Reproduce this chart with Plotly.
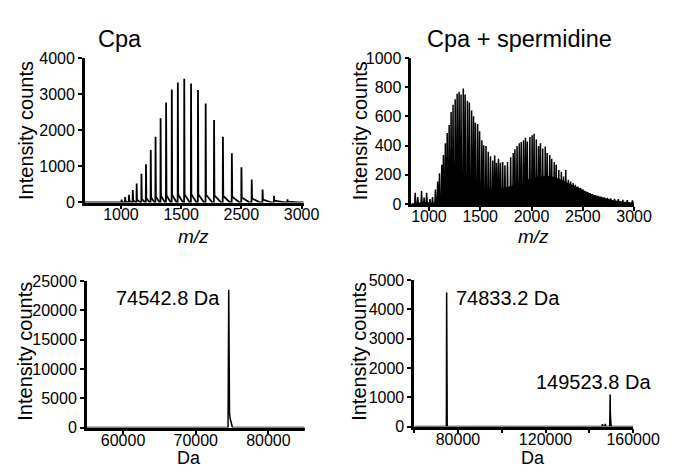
import plotly.graph_objects as go

W, H = 679, 470

# ---------------- data ----------------
# Top-left: Cpa, m/z spectrum (charge-state peaks)
tl_peak_mz = [1007, 1046, 1089, 1131, 1174, 1227, 1277, 1330, 1383, 1439, 1500, 1563, 1630,
              1701, 1776, 1853, 1938, 2031, 2129, 2228, 2334, 2448, 2568, 2695, 2844]
tl_peak_int = [80, 150, 212, 344, 530, 795, 1060, 1457, 1828, 2340, 2773, 3134, 3330,
               3435, 3303, 3126, 2746, 2287, 1828, 1370, 980, 636, 363, 185, 87]
tl_tail_int = [20, 30, 40, 60, 80, 100, 120, 140, 160, 180, 200, 210, 220,
               220, 220, 220, 215, 200, 180, 160, 140, 110, 80, 50, 25]
tl_xtick_vals = [1000, 1667, 2333, 3000]
tl_xtick_text = ["1000", "1500", "2500", "3000"]
tl_ytick_vals = [0, 1000, 2000, 3000, 4000]

# Top-right: Cpa + spermidine, m/z spectrum
tr_peak_mz = [866, 891, 928, 953, 978, 1010, 1035, 1063, 1085, 1103, 1125, 1141, 1160, 1178, 1197,
              1216, 1235, 1256, 1275, 1294, 1313, 1335, 1353, 1375, 1394, 1416, 1435, 1453, 1475,
              1494, 1516, 1534, 1556, 1578, 1600, 1622, 1641, 1659, 1678, 1697, 1719, 1741, 1766,
              1797, 1822, 1838, 1859, 1881, 1900, 1922, 1941, 1959, 1984, 2006, 2025, 2047, 2069,
              2087, 2109, 2134, 2153, 2178, 2197, 2222, 2241, 2266, 2291, 2312, 2334, 2359, 2381,
              2406, 2428, 2453, 2478, 2500, 2522, 2547, 2572, 2597, 2622, 2647, 2678, 2709, 2740,
              2772, 2809, 2847, 2890, 2934, 2984]
tr_peak_int = [77, 48, 88, 44, 77, 33, 48, 99, 154, 210, 269, 335, 415, 486, 541,
               629, 680, 717, 755, 768, 750, 790, 750, 706, 695, 640, 600, 556, 547,
               497, 437, 402, 397, 357, 327, 298, 331, 282, 309, 282, 287, 265, 287,
               320, 349, 375, 397, 415, 424, 437, 453, 428, 459, 470, 481, 441, 397,
               415, 380, 393, 349, 335, 309, 287, 269, 232, 221, 188, 232, 166, 154,
               143, 132, 119, 110, 99, 88, 82, 73, 66, 60, 55, 51, 46, 42,
               38, 35, 33, 29, 27, 24]
tr_floor_mz = [828, 950, 1050, 1100, 1200, 1300, 1400, 1500, 1600, 1700, 1800, 1900,
               2000, 2100, 2200, 2300, 2400, 2500, 2600, 2700, 2800, 2900, 3000]
tr_floor_int = [0, 10, 5, 15, 40, 55, 65, 75, 85, 100, 120, 150,
                175, 190, 185, 160, 125, 90, 60, 40, 22, 12, 5]
tr_xtick_vals = [1000, 1500, 2000, 2500, 3000]
tr_ytick_vals = [0, 200, 400, 600, 800, 1000]

# Bottom-left: Cpa deconvoluted mass
bl_mass = [55000, 74450, 74542.8, 74560, 74650, 74750, 74850, 74950, 75050, 85000]
bl_int = [0, 0, 23500, 4200, 2500, 1500, 800, 300, 0, 0]
bl_xtick_vals = [60000, 70000, 80000]
bl_ytick_vals = [0, 5000, 10000, 15000, 20000, 25000]

# Bottom-right: Cpa + spermidine deconvoluted mass
br_mass = [60000, 74700, 74833.2, 74870, 74950, 75100, 145800, 146000, 146300, 147000,
           147300, 147600, 149300, 149523.8, 149600, 149750, 150000, 160000]
br_int = [0, 0, 4580, 900, 300, 0, 0, 80, 0, 0, 90, 0, 0, 1095, 500, 250, 0, 0]
br_xtick_vals = [60000, 80000, 100000, 120000, 140000, 160000]
br_xtick_text = ["", "80000", "", "120000", "", "160000"]
br_ytick_vals = [0, 1000, 2000, 3000, 4000, 5000]

# ---------------- helpers ----------------
def px_x(p):
    return p / W

def px_y(p):
    return 1 - p / H

def spikes(centers, heights, tails=None, half=3):
    xs, ys = [], []
    n = len(centers)
    for i, (c, h) in enumerate(zip(centers, heights)):
        gap = (centers[i + 1] - c) if i < n - 1 else (c - centers[i - 1])
        if tails is None:
            xs += [c - half, c, c + half]
            ys += [0, h, 0]
        else:
            xs += [c - half, c, c + 2 * half, c + 0.8 * gap]
            ys += [0, h, tails[i], 0]
    return xs, ys

FONT = "Liberation Sans, Arial, sans-serif"

fig = go.Figure()

# Top-left
x, y = spikes(tl_peak_mz, tl_peak_int, tl_tail_int, half=2)
fig.add_trace(go.Scatter(x=[600] + x + [3024], y=[0] + y + [0], mode="lines",
                         line=dict(color="black", width=1.8), xaxis="x", yaxis="y",
                         showlegend=False, hoverinfo="skip"))

# Top-right
fig.add_trace(go.Scatter(x=tr_floor_mz, y=tr_floor_int, mode="lines", fill="tozeroy",
                         fillcolor="black", line=dict(color="black", width=1),
                         xaxis="x2", yaxis="y2", showlegend=False, hoverinfo="skip"))
x, y = spikes(tr_peak_mz, tr_peak_int, None, half=5)
fig.add_trace(go.Scatter(x=x, y=y, mode="lines", line=dict(color="black", width=1.5),
                         xaxis="x2", yaxis="y2", showlegend=False, hoverinfo="skip"))

# Bottom-left
fig.add_trace(go.Scatter(x=bl_mass, y=bl_int, mode="lines", line=dict(color="black", width=1.5),
                         xaxis="x3", yaxis="y3", showlegend=False, hoverinfo="skip"))
# Bottom-right
fig.add_trace(go.Scatter(x=br_mass, y=br_int, mode="lines", line=dict(color="black", width=1.5),
                         xaxis="x4", yaxis="y4", showlegend=False, hoverinfo="skip"))

ax_common = dict(showline=True, linecolor="black", linewidth=2.5, ticks="outside", ticklen=4,
                 tickwidth=2, tickcolor="black", showgrid=False, zeroline=False,
                 tickformat="d",
                 tickfont=dict(family=FONT, size=16, color="black"), layer="above traces")

def xa(d0, d1, rng, vals, text, anchor):
    a = dict(ax_common)
    a.update(domain=[px_x(d0), px_x(d1)], range=rng, tickvals=vals, anchor=anchor,
             ticklabelstandoff=-8)
    a["ticktext"] = text if text is not None else [str(v) for v in vals]
    return a

def ya(top, bottom, rng, vals, anchor):
    a = dict(ax_common)
    a.update(domain=[px_y(bottom), px_y(top)], range=rng, tickvals=vals, anchor=anchor,
             ticktext=[str(v) for v in vals])
    return a

fig.update_layout(
    width=W, height=H,
    margin=dict(l=0, r=0, t=0, b=0),
    paper_bgcolor="white", plot_bgcolor="white",
    font=dict(family=FONT, color="black"),
    xaxis=xa(80, 308, [600, 3024], tl_xtick_vals, tl_xtick_text, "y"),
    yaxis=ya(44, 193.5, [0, 4000], tl_ytick_vals, "x"),
    xaxis2=xa(420, 652, [828, 3000], tr_xtick_vals, None, "y2"),
    yaxis2=ya(43.5, 195, [0, 1000], tr_ytick_vals, "x2"),
    xaxis3=xa(82, 309, [55000, 85000], bl_xtick_vals, None, "y3"),
    yaxis3=ya(275, 427, [0, 25000], bl_ytick_vals, "x3"),
    xaxis4=xa(423, 651, [60000, 160000], br_xtick_vals, br_xtick_text, "y4"),
    yaxis4=ya(274, 426, [0, 5000], br_ytick_vals, "x4"),
)

def ann(text, x, y, size, xanchor="center", angle=0):
    fig.add_annotation(text=text, x=px_x(x), y=px_y(y), xref="paper", yref="paper",
                       showarrow=False, xanchor=xanchor, yanchor="middle", textangle=angle,
                       borderpad=0, font=dict(family=FONT, size=size, color="black"))

# Titles
ann("Cpa", 117, 24, 23.5)
ann("Cpa + spermidine", 533, 24, 23.5)
# Y-axis titles
for (xx, yy) in [(18, 119), (366, 119), (18, 348), (366, 348)]:
    ann("Intensity counts", xx, yy, 20, angle=-90)
# X-axis titles
ann("<i>m/z</i>", 193, 229, 19)
ann("<i>m/z</i>", 547, 229, 19)
ann("Da", 188, 459, 18)
ann("Da", 547, 459, 18)
# Peak labels
ann("74542.8 Da", 222, 293, 20, xanchor="right")
ann("74833.2 Da", 466, 293, 20, xanchor="left")
ann("149523.8 Da", 671, 380, 20, xanchor="right")

fig.write_html("out.html")
